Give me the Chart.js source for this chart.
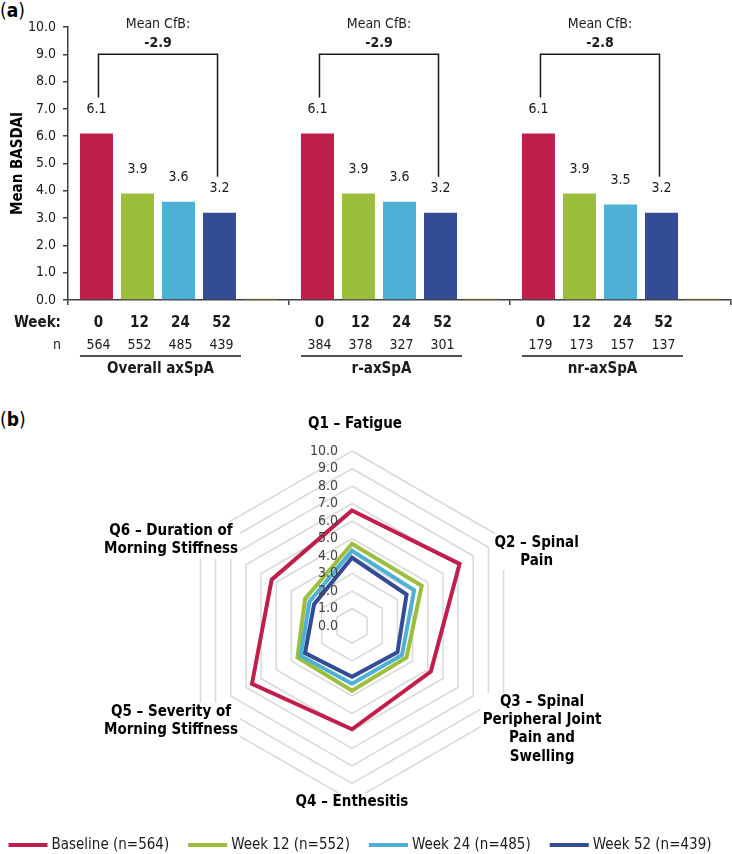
<!DOCTYPE html>
<html>
<head>
<meta charset="utf-8">
<script src="https://cdn.jsdelivr.net/npm/chart.js@4.4.1/dist/chart.umd.min.js"></script>
<style>
  body { margin: 0; background: #fff; width: 732px; height: 854px; position: relative; overflow: hidden; }
  .panel { position: absolute; left: 0; font-family: 'DejaVu Sans Condensed', 'DejaVu Sans', sans-serif; font-size: 19px; color: #000; }
  .panel b { font-weight: bold; }
  #barWrap { position: absolute; left: 0; top: 0; width: 732px; height: 380px; }
  #radarWrap { position: absolute; left: 0; top: 380px; width: 732px; height: 474px; }
</style>
</head>
<body>
<div class="panel" style="top:-1px">(<b>a</b>)</div>
<div class="panel" style="top:408px">(<b>b</b>)</div>
<div id="barWrap"><canvas id="barChart"></canvas></div>
<div id="radarWrap"><canvas id="radarChart"></canvas></div>
<script>
const FONT = "'DejaVu Sans Condensed', 'DejaVu Sans', sans-serif";

// panel (a) data
const groups = ['Overall axSpA', 'r-axSpA', 'nr-axSpA'];
const weekLabels = ['0', '12', '24', '52'];
const week0Basdai = [6.1, 6.1, 6.1];
const week12Basdai = [3.9, 3.9, 3.9];
const week24Basdai = [3.6, 3.6, 3.5];
const week52Basdai = [3.2, 3.2, 3.2];
const spacerBars = [0.05, 0.05, 0.05];
const nPatients = [
    [564, 552, 485, 439],
    [384, 378, 327, 301],
    [179, 173, 157, 137]
];
const meanCfb = [-2.9, -2.9, -2.8];

// panel (b) data
const questions = [
    ['Q1 \u2013 Fatigue'],
    ['Q2 \u2013 Spinal', 'Pain'],
    ['Q3 \u2013 Spinal', 'Peripheral Joint', 'Pain and', 'Swelling'],
    ['Q4 \u2013 Enthesitis'],
    ['Q5 \u2013 Severity of', 'Morning Stiffness'],
    ['Q6 \u2013 Duration of', 'Morning Stiffness']
];
const radarBaseline = [6.6, 7.1, 5.2, 5.9, 6.6, 5.3];
const radarWeek12 = [4.7, 4.6, 3.6, 3.7, 3.6, 3.1];
const radarWeek24 = [4.3, 4.1, 3.3, 3.3, 3.4, 2.8];
const radarWeek52 = [3.9, 3.6, 3.0, 2.9, 3.1, 2.5];
const seriesNames = ['Baseline (n=564)', 'Week 12 (n=552)', 'Week 24 (n=485)', 'Week 52 (n=439)'];

const colors = ['#C01F4B', '#9CBE3C', '#4FB0D6', '#344C96'];
const spacerColor = '#C8A23A';
const ink = '#1a1a1a';

// where the question labels sit, as fractions of the radar radius
const labelOffsets = [[0.017, -1.154], [1.055, -0.423], [1.086, 0.591], [0, 1.006], [-1.034, 0.543], [-1.034, -0.491]];

Chart.defaults.font.family = FONT;
Chart.defaults.color = ink;

const barAnnotations = {
    id: 'barAnnotations',
    afterDatasetsDraw(chart) {
        const ctx = chart.ctx;
        const yScale = chart.scales.y;
        const area = chart.chartArea;
        const metas = [0, 1, 2, 3].map(i => chart.getDatasetMeta(i));
        ctx.save();
        ctx.fillStyle = ink;
        ctx.strokeStyle = ink;
        ctx.textAlign = 'center';
        ctx.textBaseline = 'middle';

        // values over the bars
        ctx.font = '14px ' + FONT;
        metas.forEach((meta, d) => {
            meta.data.forEach((bar, g) => {
                ctx.fillText(chart.data.datasets[d].data[g].toFixed(1), bar.x, bar.y - 24);
            });
        });

        // change-from-baseline brackets
        const top = yScale.getPixelForValue(9);
        groups.forEach((g, i) => {
            const first = metas[0].data[i];
            const last = metas[3].data[i];
            ctx.lineWidth = 1.5;
            ctx.beginPath();
            ctx.moveTo(first.x + 2, first.y - 36);
            ctx.lineTo(first.x + 2, top);
            ctx.lineTo(last.x - 2, top);
            ctx.lineTo(last.x - 2, last.y - 36);
            ctx.stroke();
            const mid = (first.x + last.x) / 2;
            ctx.font = '14px ' + FONT;
            ctx.fillText('Mean CfB:', mid, top - 30);
            ctx.font = 'bold 14px ' + FONT;
            ctx.fillText(meanCfb[i].toFixed(1), mid, top - 11);
        });

        // table under the axis
        const rowWeek = area.bottom + 23;
        const rowN = area.bottom + 45;
        const ruleY = area.bottom + 56;
        const rowGroup = area.bottom + 69;
        ctx.textAlign = 'right';
        ctx.font = 'bold 15px ' + FONT;
        ctx.fillText('Week:', area.left - 7, rowWeek);
        ctx.font = '14px ' + FONT;
        ctx.fillText('n', area.left - 7, rowN);
        ctx.textAlign = 'center';
        groups.forEach((g, i) => {
            metas.forEach((meta, d) => {
                const bar = meta.data[i];
                ctx.font = 'bold 15px ' + FONT;
                ctx.fillText(weekLabels[d], bar.x + 2, rowWeek);
                ctx.font = '14px ' + FONT;
                ctx.fillText(String(nPatients[i][d]), bar.x + 2, rowN);
            });
            const x0 = metas[0].data[i].x - metas[0].data[i].width / 2;
            const x1 = metas[3].data[i].x + metas[3].data[i].width / 2 + 5;
            ctx.lineWidth = 1.5;
            ctx.beginPath();
            ctx.moveTo(x0, ruleY);
            ctx.lineTo(x1, ruleY);
            ctx.stroke();
            ctx.font = 'bold 15px ' + FONT;
            ctx.fillText(g, (x0 + x1) / 2, rowGroup);
        });
        ctx.restore();
    }
};

new Chart(document.getElementById('barChart'), {
    type: 'bar',
    data: {
        labels: groups,
        datasets: [
            { label: 'Week 0', data: week0Basdai, backgroundColor: colors[0] },
            { label: 'Week 12', data: week12Basdai, backgroundColor: colors[1] },
            { label: 'Week 24', data: week24Basdai, backgroundColor: colors[2] },
            { label: 'Week 52', data: week52Basdai, backgroundColor: colors[3] },
            { label: '', data: spacerBars, backgroundColor: spacerColor }
        ]
    },
    options: {
        responsive: true,
        maintainAspectRatio: false,
        animation: false,
        layout: { padding: { top: 27, right: 1, left: 0, bottom: 0 } },
        datasets: { bar: { barPercentage: 0.805, categoryPercentage: 0.928 } },
        plugins: { legend: { display: false }, tooltip: { enabled: false } },
        scales: {
            x: {
                offset: true,
                ticks: { display: false },
                grid: { display: true, drawOnChartArea: false, offset: true, tickLength: 5, color: '#404040', lineWidth: 1.5 },
                border: { color: '#404040', width: 1.5 },
                afterFit(scale) { scale.height = 80; }
            },
            y: {
                min: 0,
                max: 10,
                ticks: { stepSize: 1, padding: 7, color: ink, font: { size: 14 }, callback: v => v.toFixed(1) },
                grid: { drawOnChartArea: false, tickLength: 5, color: '#404040', lineWidth: 1.5 },
                border: { color: '#404040', width: 1.5 },
                title: { display: true, text: 'Mean BASDAI', color: '#000', font: { size: 15, weight: 'bold' }, padding: { top: 9, bottom: 0 } },
                afterFit(scale) { scale.width = 68; }
            }
        }
    },
    plugins: [barAnnotations]
});

const radarDecor = {
    id: 'radarDecor',
    afterDatasetsDraw(chart) {
        const r = chart.scales.r;
        const ctx = chart.ctx;
        ctx.save();
        ctx.textBaseline = 'middle';

        // radial tick labels, left of the vertical axis
        ctx.font = '14px ' + FONT;
        ctx.fillStyle = '#404040';
        ctx.textAlign = 'right';
        r.ticks.forEach(t => {
            ctx.fillText(t.value.toFixed(1), r.xCenter - 14, r.yCenter - r.getDistanceFromCenterForValue(t.value));
        });

        // question labels
        ctx.font = 'bold 15px ' + FONT;
        ctx.textAlign = 'center';
        chart.data.labels.forEach((lines, i) => {
            const cx = r.xCenter + labelOffsets[i][0] * r.drawingArea;
            const cy = r.yCenter + labelOffsets[i][1] * r.drawingArea;
            const lh = 18.3;
            const y0 = cy - (lines.length - 1) * lh / 2;
            const w = Math.max(...lines.map(s => ctx.measureText(s).width));
            ctx.fillStyle = '#fff';
            ctx.fillRect(cx - w / 2 - 2, y0 - 9, w + 4, lines.length * lh);
            ctx.fillStyle = '#000';
            lines.forEach((s, k) => ctx.fillText(s, cx, y0 + k * lh));
        });

        // legend row
        ctx.font = '15px ' + FONT;
        ctx.textAlign = 'left';
        const sample = 39, gapText = 4, gapItem = 19;
        const widths = chart.data.datasets.map(ds => sample + gapText + ctx.measureText(ds.label).width);
        const total = widths.reduce((a, b) => a + b, 0) + gapItem * (widths.length - 1);
        let x = 360 - total / 2;
        const ly = 465;
        chart.data.datasets.forEach((ds, i) => {
            ctx.strokeStyle = ds.borderColor;
            ctx.lineWidth = 4;
            ctx.beginPath();
            ctx.moveTo(x, ly);
            ctx.lineTo(x + sample, ly);
            ctx.stroke();
            ctx.fillStyle = ink;
            ctx.fillText(ds.label, x + sample + gapText, ly);
            x += widths[i] + gapItem;
        });
        ctx.restore();
    }
};

const radarSeries = [radarBaseline, radarWeek12, radarWeek24, radarWeek52];

new Chart(document.getElementById('radarChart'), {
    type: 'radar',
    data: {
        labels: questions,
        datasets: radarSeries.map((values, i) => ({
            label: seriesNames[i],
            data: values,
            borderColor: colors[i],
            backgroundColor: colors[i],
            borderWidth: 4,
            borderJoinStyle: 'miter',
            pointRadius: 0,
            fill: false,
            order: radarSeries.length - i
        }))
    },
    options: {
        responsive: true,
        maintainAspectRatio: false,
        animation: false,
        layout: { padding: { left: 177, right: 205, top: 71, bottom: 53 } },
        plugins: { legend: { display: false }, tooltip: { enabled: false } },
        scales: {
            r: {
                min: 0,
                max: 10,
                ticks: { stepSize: 1, display: false },
                grid: { color: '#d9d9d9', lineWidth: 1.5 },
                angleLines: { display: false },
                pointLabels: { display: false }
            }
        }
    },
    plugins: [radarDecor]
});
</script>
</body>
</html>
